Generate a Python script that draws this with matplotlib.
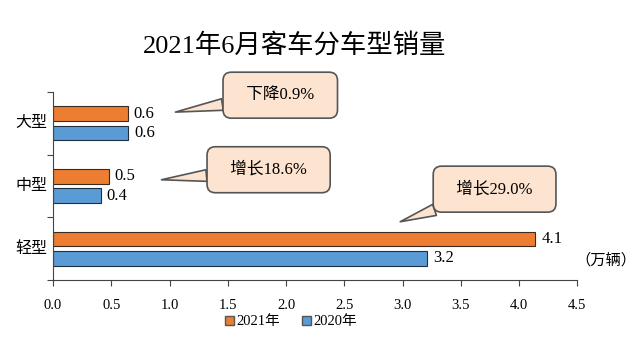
import matplotlib
matplotlib.use("Agg")
import matplotlib.pyplot as plt
from matplotlib.patches import Patch
import numpy as np

plt.rcParams['font.family'] = ['Liberation Serif', 'Noto Sans CJK SC', 'DejaVu Sans']

categories = ['轻型', '中型', '大型']
sales_2021 = [4.14, 0.48, 0.64]
sales_2020 = [3.21, 0.41, 0.645]
labels_2021 = ['4.1', '0.5', '0.6']
labels_2020 = ['3.2', '0.4', '0.6']
series_names = ['2021年', '2020年']
callouts = ['增长29.0%', '增长18.6%', '下降0.9%']
xticks = [0, 0.5, 1, 1.5, 2, 2.5, 3, 3.5, 4, 4.5]
title = '2021年6月客车分车型销量'
unit = '（万辆）'

c21 = '#ED7D31'
c20 = '#5B9BD5'

fig = plt.figure(figsize=(6.4, 3.5), dpi=100)
ax = fig.add_axes([0.083, 0.2, 0.819, 0.537])

y = np.arange(len(categories))
h = 0.235
off = 0.155
ax.barh(y + off, sales_2021, height=h, color=c21, edgecolor='#3a2a20', linewidth=0.8, label=series_names[0])
ax.barh(y - off, sales_2020, height=h, color=c20, edgecolor='#1f2f3f', linewidth=0.8, label=series_names[1])

for i in range(len(categories)):
    ax.text(sales_2021[i] + 0.05, y[i] + off, labels_2021[i], va='center', ha='left', fontsize=12)
    ax.text(sales_2020[i] + 0.05, y[i] - off, labels_2020[i], va='center', ha='left', fontsize=12)

ax.set_xlim(0, 4.5)
ax.set_ylim(-0.5, 2.5)
ax.set_xticks(xticks)
ax.set_xticklabels(['%.1f' % v for v in xticks], fontsize=10.5)
ax.tick_params(axis='x', direction='out', length=4, pad=10, color='#444444')
ax.set_yticks([-0.5, 0.5, 1.5, 2.5])
ax.set_yticklabels([])
ax.tick_params(axis='y', direction='out', length=4, color='#444444')
for i, c in enumerate(categories):
    ax.text(-0.05, y[i], c, ha='right', va='center', fontsize=11.5)

for s in ['top', 'right']:
    ax.spines[s].set_visible(False)
ax.spines['left'].set_color('#444444')
ax.spines['bottom'].set_color('#444444')

ax.text(4.48, -0.18, unit, ha='left', va='center', fontsize=11, clip_on=False)

box = dict(boxstyle='round,pad=0.9,rounding_size=0.5', fc='#FCE4D0', ec='#555555', lw=1.2)
arrow = dict(arrowstyle='wedge,tail_width=0.7,shrink_factor=0.5', fc='#FCE4D0', ec='#555555', lw=1.2,
             shrinkA=0, shrinkB=0)
# (text position, pointer position) in data units
ann = [((3.79, 0.95), (2.98, 0.43)),
       ((1.85, 1.26), (0.93, 1.10)),
       ((1.95, 2.45), (1.05, 2.18))]
for txt, (xyt, xy) in zip(callouts, ann):
    ax.annotate('  ' + txt + '  ', xy=xy, xytext=xyt, textcoords='data', ha='center', va='center',
                fontsize=12, bbox=box, arrowprops=arrow, annotation_clip=False)

fig.text(0.46, 0.87, title, ha='center', va='center', fontsize=19)

handles = [Patch(facecolor=c21, edgecolor='#555555'), Patch(facecolor=c20, edgecolor='#555555')]
fig.legend(handles, series_names, loc='center', bbox_to_anchor=(0.455, 0.08), ncol=2, frameon=False,
           fontsize=10.5, handlelength=0.6, handleheight=0.6, handletextpad=0.2, columnspacing=1.5)

fig.savefig('out.png', dpi=100, facecolor='white')
